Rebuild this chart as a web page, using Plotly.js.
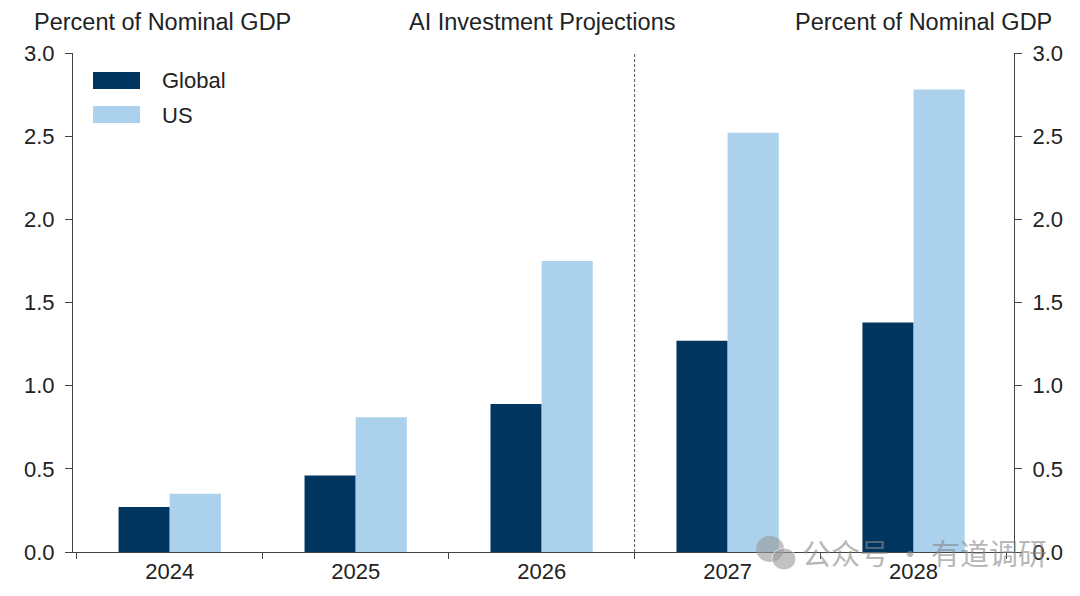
<!DOCTYPE html>
<html>
<head>
<meta charset="utf-8">
<script src="https://cdn.plot.ly/plotly-3.0.1.min.js"></script>
<style>
  html, body { margin: 0; padding: 0; background: #fff; }
  #chart { width: 1080px; height: 596px; }
</style>
</head>
<body>
<div id="chart"></div>
<script>
// values, percent of nominal GDP
const years = ['2024', '2025', '2026', '2027', '2028'];
const globalValues = [0.27, 0.46, 0.89, 1.27, 1.38];
const usValues = [0.35, 0.81, 1.75, 2.52, 2.78];
const seriesNames = ['Global', 'US'];
const yTicks = [0, 0.5, 1, 1.5, 2, 2.5, 3];

const navy = '#00355f';
const lightBlue = '#abd1ed';
const font = 'Liberation Sans, Arial, sans-serif';

// plot area in pixels, used for placing the hand-made legend
const plotLeft = 73, plotW = 941, plotBottom = 552, plotH = 499;
const px = x => (x - plotLeft) / plotW;
const py = y => (plotBottom - y) / plotH;

const data = [
  {
    type: 'bar',
    name: seriesNames[0],
    x: years,
    y: globalValues,
    marker: { color: navy },
    hoverinfo: 'x+y'
  },
  {
    type: 'bar',
    name: seriesNames[1],
    x: years,
    y: usValues,
    marker: { color: lightBlue },
    hoverinfo: 'x+y'
  },
  // invisible trace so the right-hand axis gets drawn
  {
    type: 'scatter',
    mode: 'markers',
    x: years,
    y: usValues,
    yaxis: 'y2',
    marker: { opacity: 0 },
    hoverinfo: 'skip',
    showlegend: false
  }
];

const axisCommon = {
  range: [0, 3],
  tickvals: yTicks,
  tickformat: '.1f',
  ticks: 'outside',
  ticklen: 7,
  tickcolor: '#444',
  ticklabelstandoff: 6,
  showline: true,
  linecolor: '#444',
  linewidth: 1,
  showgrid: false,
  zeroline: false,
  tickfont: { family: font, size: 22, color: '#222' },
  fixedrange: true
};

const layout = {
  width: 1080,
  height: 596,
  margin: { l: plotLeft, r: 1080 - plotLeft - plotW, t: 53, b: 596 - plotBottom },
  paper_bgcolor: '#fff',
  plot_bgcolor: '#fff',
  barmode: 'group',
  bargap: 0.45,
  bargroupgap: 0,
  showlegend: false,
  font: { family: font, color: '#222' },
  xaxis: {
    type: 'category',
    range: [-0.52, 4.54],
    tickson: 'boundaries',
    ticks: 'outside',
    ticklen: 6,
    tickcolor: '#444',
    showline: true,
    linecolor: '#444',
    linewidth: 1,
    showgrid: false,
    tickfont: { family: font, size: 22, color: '#222' },
    fixedrange: true
  },
  yaxis: Object.assign({}, axisCommon, { side: 'left' }),
  yaxis2: Object.assign({}, axisCommon, { side: 'right', overlaying: 'y' }),
  shapes: [
    // dashed divider between 2026 and 2027
    {
      type: 'line', xref: 'x', yref: 'paper',
      x0: 2.5, x1: 2.5, y0: 0, y1: 1,
      line: { color: '#555', width: 1, dash: '3px,2px' }
    },
    // legend swatches
    {
      type: 'rect', xref: 'paper', yref: 'paper',
      x0: px(93), x1: px(140), y0: py(89), y1: py(72),
      fillcolor: navy, line: { width: 0 }
    },
    {
      type: 'rect', xref: 'paper', yref: 'paper',
      x0: px(93), x1: px(140), y0: py(123), y1: py(106),
      fillcolor: lightBlue, line: { width: 0 }
    },
    // watermark bubbles
    {
      type: 'circle', xref: 'paper', yref: 'paper',
      x0: px(756), x1: px(784), y0: py(562), y1: py(536),
      fillcolor: '#9a9a9a', opacity: 0.6, line: { width: 0 }
    },
    {
      type: 'circle', xref: 'paper', yref: 'paper',
      x0: px(772), x1: px(796), y0: py(570), y1: py(548),
      fillcolor: '#9a9a9a', opacity: 0.6, line: { width: 1, color: '#fff' }
    }
  ],
  annotations: [
    {
      text: 'AI Investment Projections', xref: 'paper', yref: 'paper',
      x: px(542), y: 1, yshift: 31, xanchor: 'center', yanchor: 'middle',
      showarrow: false, font: { family: font, size: 23.5, color: '#222' }
    },
    {
      text: 'Percent of Nominal GDP', xref: 'paper', yref: 'paper',
      x: 0, xshift: -41, y: 1, yshift: 31, xanchor: 'left', yanchor: 'middle',
      showarrow: false, font: { family: font, size: 23.5, color: '#222' }
    },
    {
      text: 'Percent of Nominal GDP', xref: 'paper', yref: 'paper',
      x: 1, xshift: 40, y: 1, yshift: 31, xanchor: 'right', yanchor: 'middle',
      showarrow: false, font: { family: font, size: 23.5, color: '#222' }
    },
    {
      text: seriesNames[0], xref: 'paper', yref: 'paper',
      x: px(160), y: py(81), xanchor: 'left', yanchor: 'middle',
      showarrow: false, font: { family: font, size: 22, color: '#222' }
    },
    {
      text: seriesNames[1], xref: 'paper', yref: 'paper',
      x: px(160), y: py(115), xanchor: 'left', yanchor: 'middle',
      showarrow: false, font: { family: font, size: 22, color: '#222' }
    },
    // watermark
    {
      text: '公众号 · 有道调研', xref: 'paper', yref: 'paper',
      x: px(800), y: 0, xanchor: 'left', yanchor: 'middle',
      showarrow: false, opacity: 0.6,
      font: { family: 'Noto Sans CJK SC, sans-serif', size: 29, color: '#888' }
    }
  ]
};

Plotly.newPlot('chart', data, layout, { displayModeBar: false, staticPlot: true });
</script>
</body>
</html>
